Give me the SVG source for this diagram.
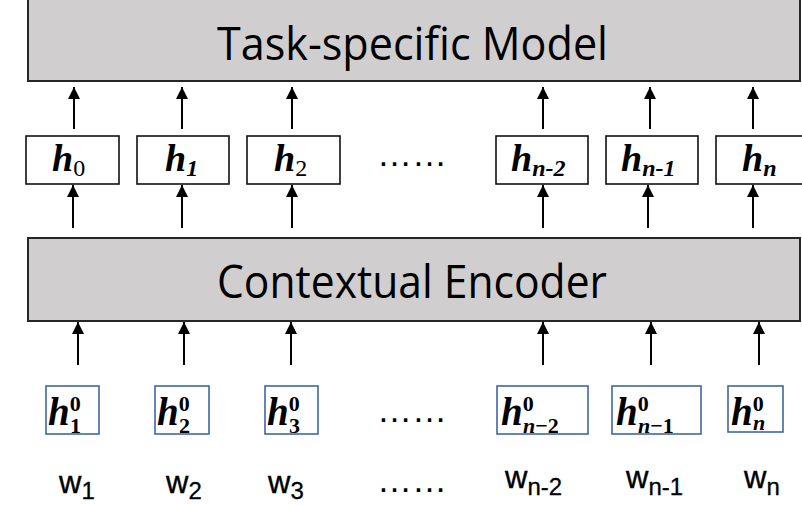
<svg xmlns="http://www.w3.org/2000/svg" width="802" height="505" viewBox="0 0 802 505">
<defs>
<marker id="ah" viewBox="0 0 12 12" refX="12" refY="6" markerWidth="12" markerHeight="12" markerUnits="userSpaceOnUse" orient="auto">
<path d="M0,0 L12,6 L0,12 z" fill="#000"/>
</marker>
<style>
.big{fill:#D0CECE;stroke:#262626;stroke-width:2}
.bigt{font-family:"Open Sans","Liberation Sans",sans-serif;font-size:46px;fill:#000}
.hb{fill:#fff;stroke:#111;stroke-width:1.6}
.eb{fill:#fff;stroke:#3F67A6;stroke-width:1.6}
.ht{font-family:"Liberation Serif","DejaVu Serif",serif;font-weight:bold;font-style:italic;font-size:38px;fill:#000}
.hs{font-size:24px}
.up{font-style:normal;font-weight:normal}
.et{font-family:"Liberation Serif","DejaVu Serif",serif;font-weight:bold;font-style:italic;font-size:39px;fill:#000}
.es{font-size:22px;font-style:normal}
.esi{font-size:22px;font-style:italic}
.wt{font-family:"Liberation Sans",Arial,sans-serif;font-size:31px;fill:#000;stroke:#000;stroke-width:0.4}
.ws{font-size:24px;stroke-width:0.3}
.dots{font-family:"Liberation Sans",Arial,sans-serif;font-size:35px;fill:#000}
.arr{stroke:#000;stroke-width:2;fill:none;marker-end:url(#ah)}
</style>
</defs>

<g id="task-model">
<rect class="big" x="28" y="-2" width="772" height="83"/>
<text class="bigt" x="217" y="60" textLength="391" lengthAdjust="spacingAndGlyphs">Task-specific Model</text>
</g>

<g id="encoder">
<rect class="big" x="28" y="238" width="772" height="83"/>
<text class="bigt" x="217" y="298" textLength="390" lengthAdjust="spacingAndGlyphs">Contextual Encoder</text>
</g>

<g id="h0"><rect class="hb" x="26" y="136" width="93" height="48"/><text class="ht" x="52" y="171">h<tspan class="hs up" dy="5">0</tspan></text></g>
<g id="h1"><rect class="hb" x="137" y="136" width="92" height="48"/><text class="ht" x="165" y="171">h<tspan class="hs" dy="5">1</tspan></text></g>
<g id="h2"><rect class="hb" x="247" y="136" width="93" height="48"/><text class="ht" x="274" y="171">h<tspan class="hs up" dy="5">2</tspan></text></g>
<g id="dots-h"><text class="dots" x="377" y="166">……</text></g>
<g id="hn-2"><rect class="hb" x="496" y="136" width="92" height="48"/><text class="ht" x="511" y="171">h<tspan class="hs" dy="5">n-2</tspan></text></g>
<g id="hn-1"><rect class="hb" x="606" y="136" width="92" height="48"/><text class="ht" x="621" y="171">h<tspan class="hs" dy="5">n-1</tspan></text></g>
<g id="hn"><rect class="hb" x="716" y="136" width="96" height="48"/><text class="ht" x="742" y="171">h<tspan class="hs" dy="5">n</tspan></text></g>

<g id="e1"><rect class="eb" x="46" y="386" width="53" height="48"/><text class="et" x="48" y="425">h<tspan class="es" dy="-14">0</tspan><tspan class="es" x="70" dy="22">1</tspan></text></g>
<g id="e2"><rect class="eb" x="155" y="386" width="54" height="48"/><text class="et" x="157" y="425">h<tspan class="es" dy="-14">0</tspan><tspan class="es" x="179" dy="22">2</tspan></text></g>
<g id="e3"><rect class="eb" x="265" y="386" width="53" height="48"/><text class="et" x="267" y="425">h<tspan class="es" dy="-14">0</tspan><tspan class="es" x="289" dy="22">3</tspan></text></g>
<g id="dots-e"><text class="dots" x="377" y="422">……</text></g>
<g id="en-2"><rect class="eb" x="497" y="386" width="91" height="48"/><text class="et" x="501" y="425">h<tspan class="es" dy="-14">0</tspan><tspan class="esi" x="523" dy="22">n</tspan><tspan class="es">−2</tspan></text></g>
<g id="en-1"><rect class="eb" x="612" y="386" width="89" height="48"/><text class="et" x="616" y="425">h<tspan class="es" dy="-14">0</tspan><tspan class="esi" x="638" dy="22">n</tspan><tspan class="es">−1</tspan></text></g>
<g id="en"><rect class="eb" x="728" y="386" width="55" height="46"/><text class="et" x="731" y="425">h<tspan class="es" dy="-14">0</tspan><tspan class="esi" x="753" dy="19">n</tspan></text></g>

<g id="words">
<text class="wt" x="59" y="493">w<tspan class="ws" dy="6">1</tspan></text>
<text class="wt" x="166" y="493">w<tspan class="ws" dy="6">2</tspan></text>
<text class="wt" x="268" y="493">w<tspan class="ws" dy="6">3</tspan></text>
<text class="dots" x="377" y="492">……</text>
<text class="wt" x="505" y="488">w<tspan class="ws" dy="7">n-2</tspan></text>
<text class="wt" x="626" y="488">w<tspan class="ws" dy="7">n-1</tspan></text>
<text class="wt" x="744" y="488">w<tspan class="ws" dy="7">n</tspan></text>
</g>

<g id="connectors">
<line class="arr" x1="74" y1="129" x2="74" y2="87"/>
<line class="arr" x1="182" y1="129" x2="182" y2="87"/>
<line class="arr" x1="292" y1="129" x2="292" y2="87"/>
<line class="arr" x1="543" y1="129" x2="543" y2="87"/>
<line class="arr" x1="650" y1="129" x2="650" y2="87"/>
<line class="arr" x1="753" y1="129" x2="753" y2="87"/>
<line class="arr" x1="73" y1="228" x2="73" y2="185"/>
<line class="arr" x1="182" y1="228" x2="182" y2="185"/>
<line class="arr" x1="292" y1="228" x2="292" y2="185"/>
<line class="arr" x1="543" y1="228" x2="543" y2="185"/>
<line class="arr" x1="648" y1="228" x2="648" y2="185"/>
<line class="arr" x1="753" y1="228" x2="753" y2="185"/>
<line class="arr" x1="78" y1="365" x2="78" y2="322"/>
<line class="arr" x1="184" y1="365" x2="184" y2="322"/>
<line class="arr" x1="291" y1="365" x2="291" y2="322"/>
<line class="arr" x1="543" y1="365" x2="543" y2="322"/>
<line class="arr" x1="651" y1="365" x2="651" y2="322"/>
<line class="arr" x1="759" y1="365" x2="759" y2="322"/>
</g>
</svg>
